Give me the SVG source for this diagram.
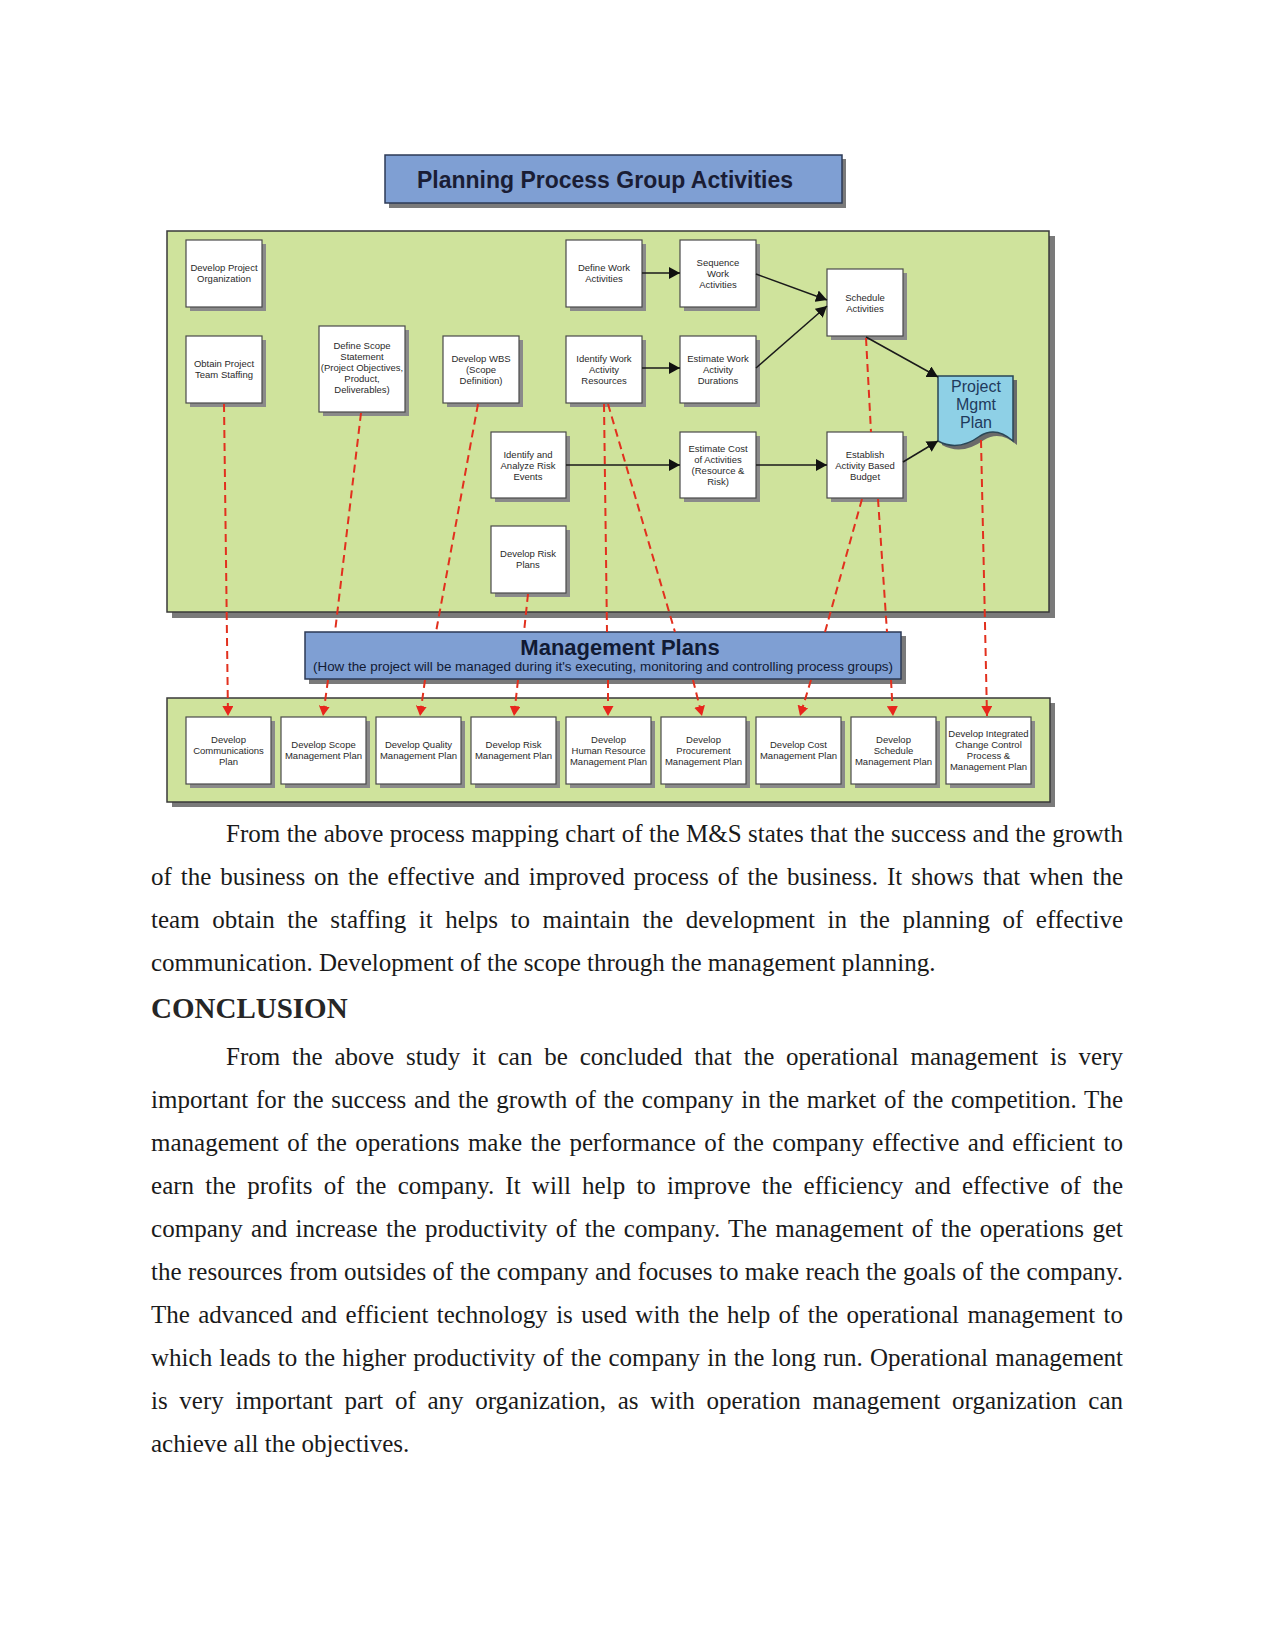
<svg xmlns="http://www.w3.org/2000/svg" width="1275" height="1651" viewBox="0 0 1275 1651">
<defs>
<style>
.panel{fill:#cfe39c;stroke:#3a3a3a;stroke-width:1.5}
.pshadow{fill:#7a7a7a}
.box{fill:#ffffff;stroke:#4a4a4a;stroke-width:1.2}
.bshadow{fill:#8a8a8a}
.blue{fill:#7f9fd3;stroke:#2d3a55;stroke-width:1.5}
.bt{font-family:"Liberation Sans",Arial,sans-serif;font-size:9.5px;fill:#2a2a2a;text-anchor:middle}
.body{font-family:"Liberation Serif","Times New Roman",serif;font-size:25px;fill:#1a1a1a}
.flow{stroke:#1a1a1a;stroke-width:1.5;fill:none}
.dash{stroke:#e2301e;stroke-width:2;stroke-dasharray:8 5;fill:none}
.dashA{stroke:#e2301e;stroke-width:2;stroke-dasharray:8 5;fill:none;marker-end:url(#ra)}
</style>
<marker id="ba" markerUnits="userSpaceOnUse" markerWidth="12" markerHeight="12" refX="11" refY="6" orient="auto">
<path d="M0,0 L11,6 L0,12 z" fill="#111"/>
</marker>
<marker id="ra" markerUnits="userSpaceOnUse" markerWidth="11" markerHeight="11" refX="10" refY="5.5" orient="auto">
<path d="M0,0 L10,5.5 L0,11 z" fill="#e8251c"/>
</marker>
</defs>
<rect width="1275" height="1651" fill="#ffffff"/>

<g id="title">
<rect class="pshadow" x="389" y="159" width="457" height="49"/>
<rect class="blue" x="385" y="155" width="457" height="48"/>
<text x="605" y="188" font-family="'Liberation Sans',Arial,sans-serif" font-size="23" font-weight="bold" fill="#1a1d35" text-anchor="middle">Planning Process Group Activities</text>
</g>

<g id="planning-panel">
<rect class="pshadow" x="172" y="236" width="883" height="382"/>
<rect class="panel" x="167" y="231" width="882" height="381"/>
</g>

<g id="output-panel">
<rect class="pshadow" x="172" y="703" width="883" height="104"/>
<rect class="panel" x="167" y="698" width="883" height="104"/>
</g>

<g id="n-develop-project-organization">
<rect class="bshadow" x="190" y="244" width="76" height="67"/><rect class="box" x="186" y="240" width="76" height="67"/>
<text class="bt" x="224" y="271">Develop Project</text><text class="bt" x="224" y="282">Organization</text>
</g>
<g id="n-obtain-project-team-staffing">
<rect class="bshadow" x="190" y="340" width="76" height="67"/><rect class="box" x="186" y="336" width="76" height="67"/>
<text class="bt" x="224" y="367">Obtain Project</text><text class="bt" x="224" y="378">Team Staffing</text>
</g>
<g id="n-define-scope-statement">
<rect class="bshadow" x="323" y="330" width="86" height="86"/><rect class="box" x="319" y="326" width="86" height="86"/>
<text class="bt" x="362" y="349">Define Scope</text><text class="bt" x="362" y="360">Statement</text><text class="bt" x="362" y="371">(Project Objectives,</text><text class="bt" x="362" y="382">Product,</text><text class="bt" x="362" y="393">Deliverables)</text>
</g>
<g id="n-develop-wbs">
<rect class="bshadow" x="447" y="340" width="76" height="67"/><rect class="box" x="443" y="336" width="76" height="67"/>
<text class="bt" x="481" y="362">Develop WBS</text><text class="bt" x="481" y="373">(Scope</text><text class="bt" x="481" y="384">Definition)</text>
</g>
<g id="n-define-work-activities">
<rect class="bshadow" x="570" y="244" width="76" height="67"/><rect class="box" x="566" y="240" width="76" height="67"/>
<text class="bt" x="604" y="271">Define Work</text><text class="bt" x="604" y="282">Activities</text>
</g>
<g id="n-sequence-work-activities">
<rect class="bshadow" x="684" y="244" width="76" height="67"/><rect class="box" x="680" y="240" width="76" height="67"/>
<text class="bt" x="718" y="266">Sequence</text><text class="bt" x="718" y="277">Work</text><text class="bt" x="718" y="288">Activities</text>
</g>
<g id="n-identify-work-activity-resources">
<rect class="bshadow" x="570" y="340" width="76" height="67"/><rect class="box" x="566" y="336" width="76" height="67"/>
<text class="bt" x="604" y="362">Identify Work</text><text class="bt" x="604" y="373">Activity</text><text class="bt" x="604" y="384">Resources</text>
</g>
<g id="n-estimate-work-activity-durations">
<rect class="bshadow" x="684" y="340" width="76" height="67"/><rect class="box" x="680" y="336" width="76" height="67"/>
<text class="bt" x="718" y="362">Estimate Work</text><text class="bt" x="718" y="373">Activity</text><text class="bt" x="718" y="384">Durations</text>
</g>
<g id="n-schedule-activities">
<rect class="bshadow" x="831" y="273" width="76" height="67"/><rect class="box" x="827" y="269" width="76" height="67"/>
<text class="bt" x="865" y="301">Schedule</text><text class="bt" x="865" y="312">Activities</text>
</g>
<g id="n-identify-analyze-risk">
<rect class="bshadow" x="495" y="436" width="75" height="66"/><rect class="box" x="491" y="432" width="75" height="66"/>
<text class="bt" x="528" y="458">Identify and</text><text class="bt" x="528" y="469">Analyze Risk</text><text class="bt" x="528" y="480">Events</text>
</g>
<g id="n-estimate-cost">
<rect class="bshadow" x="684" y="436" width="76" height="66"/><rect class="box" x="680" y="432" width="76" height="66"/>
<text class="bt" x="718" y="452">Estimate Cost</text><text class="bt" x="718" y="463">of Activities</text><text class="bt" x="718" y="474">(Resource &amp;</text><text class="bt" x="718" y="485">Risk)</text>
</g>
<g id="n-establish-budget">
<rect class="bshadow" x="831" y="436" width="76" height="66"/><rect class="box" x="827" y="432" width="76" height="66"/>
<text class="bt" x="865" y="458">Establish</text><text class="bt" x="865" y="469">Activity Based</text><text class="bt" x="865" y="480">Budget</text>
</g>
<g id="n-develop-risk-plans">
<rect class="bshadow" x="495" y="530" width="75" height="67"/><rect class="box" x="491" y="526" width="75" height="67"/>
<text class="bt" x="528" y="557">Develop Risk</text><text class="bt" x="528" y="568">Plans</text>
</g>
<g id="n-project-mgmt-plan">
<path d="M942,380 H1017 V445 Q1000,430 984,440 Q962,456 942,445 Z" fill="#6a6a6a"/>
<path d="M938,376 H1013 V441 Q996,426 980,436 Q958,452 938,441 Z" fill="#8ed0e6" stroke="#2a4656" stroke-width="1.5"/>
<text x="976" y="392" font-family="'Liberation Sans',Arial,sans-serif" font-size="16" fill="#1f3a5c" text-anchor="middle">Project</text>
<text x="976" y="410" font-family="'Liberation Sans',Arial,sans-serif" font-size="16" fill="#1f3a5c" text-anchor="middle">Mgmt</text>
<text x="976" y="428" font-family="'Liberation Sans',Arial,sans-serif" font-size="16" fill="#1f3a5c" text-anchor="middle">Plan</text>
</g>

<g id="n-management-plans">
<rect class="pshadow" x="309" y="636" width="597" height="48"/>
<rect class="blue" x="305" y="632" width="596" height="47"/>
<text x="620" y="655" font-family="'Liberation Sans',Arial,sans-serif" font-size="22" font-weight="bold" fill="#111a33" text-anchor="middle">Management Plans</text>
<text x="313" y="671" font-family="'Liberation Sans',Arial,sans-serif" font-size="13" fill="#111a33" textLength="580" lengthAdjust="spacingAndGlyphs">(How the project will be managed during it's executing, monitoring and controlling process groups)</text>
</g>

<g id="n-communications-plan">
<rect class="bshadow" x="190" y="721" width="85" height="67"/><rect class="box" x="186" y="717" width="85" height="67"/>
<text class="bt" x="228.5" y="743">Develop</text><text class="bt" x="228.5" y="754">Communications</text><text class="bt" x="228.5" y="765">Plan</text>
</g>
<g id="n-scope-management-plan">
<rect class="bshadow" x="285" y="721" width="85" height="67"/><rect class="box" x="281" y="717" width="85" height="67"/>
<text class="bt" x="323.5" y="748">Develop Scope</text><text class="bt" x="323.5" y="759">Management Plan</text>
</g>
<g id="n-quality-management-plan">
<rect class="bshadow" x="380" y="721" width="85" height="67"/><rect class="box" x="376" y="717" width="85" height="67"/>
<text class="bt" x="418.5" y="748">Develop Quality</text><text class="bt" x="418.5" y="759">Management Plan</text>
</g>
<g id="n-risk-management-plan">
<rect class="bshadow" x="475" y="721" width="85" height="67"/><rect class="box" x="471" y="717" width="85" height="67"/>
<text class="bt" x="513.5" y="748">Develop Risk</text><text class="bt" x="513.5" y="759">Management Plan</text>
</g>
<g id="n-hr-management-plan">
<rect class="bshadow" x="570" y="721" width="85" height="67"/><rect class="box" x="566" y="717" width="85" height="67"/>
<text class="bt" x="608.5" y="743">Develop</text><text class="bt" x="608.5" y="754">Human Resource</text><text class="bt" x="608.5" y="765">Management Plan</text>
</g>
<g id="n-procurement-management-plan">
<rect class="bshadow" x="665" y="721" width="85" height="67"/><rect class="box" x="661" y="717" width="85" height="67"/>
<text class="bt" x="703.5" y="743">Develop</text><text class="bt" x="703.5" y="754">Procurement</text><text class="bt" x="703.5" y="765">Management Plan</text>
</g>
<g id="n-cost-management-plan">
<rect class="bshadow" x="760" y="721" width="85" height="67"/><rect class="box" x="756" y="717" width="85" height="67"/>
<text class="bt" x="798.5" y="748">Develop Cost</text><text class="bt" x="798.5" y="759">Management Plan</text>
</g>
<g id="n-schedule-management-plan">
<rect class="bshadow" x="855" y="721" width="85" height="67"/><rect class="box" x="851" y="717" width="85" height="67"/>
<text class="bt" x="893.5" y="743">Develop</text><text class="bt" x="893.5" y="754">Schedule</text><text class="bt" x="893.5" y="765">Management Plan</text>
</g>
<g id="n-integrated-change-control">
<rect class="bshadow" x="950" y="721" width="85" height="67"/><rect class="box" x="946" y="717" width="85" height="67"/>
<text class="bt" x="988.5" y="737">Develop Integrated</text><text class="bt" x="988.5" y="748">Change Control</text><text class="bt" x="988.5" y="759">Process &amp;</text><text class="bt" x="988.5" y="770">Management Plan</text>
</g>

<g id="connectors">
<line class="flow" x1="642" y1="273" x2="680" y2="273" marker-end="url(#ba)"/>
<line class="flow" x1="642" y1="368" x2="680" y2="368" marker-end="url(#ba)"/>
<line class="flow" x1="756" y1="274" x2="827" y2="300" marker-end="url(#ba)"/>
<line class="flow" x1="756" y1="368" x2="827" y2="306" marker-end="url(#ba)"/>
<line class="flow" x1="566" y1="465" x2="680" y2="465" marker-end="url(#ba)"/>
<line class="flow" x1="756" y1="465" x2="827" y2="465" marker-end="url(#ba)"/>
<line class="flow" x1="866" y1="337" x2="938" y2="377" marker-end="url(#ba)"/>
<line class="flow" x1="903" y1="462" x2="938" y2="441" marker-end="url(#ba)"/>

<line class="dash" x1="866" y1="338" x2="871" y2="432"/>

<line class="dashA" x1="224" y1="404" x2="228" y2="716"/>
<line class="dash" x1="361" y1="413" x2="335" y2="632"/>
<line class="dashA" x1="328" y1="680" x2="323" y2="716"/>
<line class="dash" x1="478" y1="404" x2="436" y2="632"/>
<line class="dashA" x1="425" y1="680" x2="420" y2="716"/>
<line class="dash" x1="528" y1="594" x2="524" y2="632"/>
<line class="dashA" x1="518" y1="680" x2="514" y2="716"/>
<line class="dash" x1="604" y1="404" x2="607" y2="632"/>
<line class="dashA" x1="608" y1="680" x2="608" y2="716"/>
<line class="dash" x1="608" y1="404" x2="675" y2="632"/>
<line class="dashA" x1="693" y1="680" x2="702" y2="716"/>
<line class="dash" x1="862" y1="499" x2="825" y2="632"/>
<line class="dashA" x1="811" y1="680" x2="800" y2="716"/>
<line class="dash" x1="878" y1="499" x2="887" y2="632"/>
<line class="dashA" x1="891" y1="680" x2="893" y2="716"/>
<line class="dashA" x1="981" y1="440" x2="987" y2="716"/>
</g>

<g id="body-text">
<text class="body" x="226" y="842" word-spacing="0.2" textLength="897" lengthAdjust="spacing">From the above process mapping chart of the M&amp;S states that the success and the growth</text>
<text class="body" x="151" y="885" word-spacing="2.7" textLength="972" lengthAdjust="spacing">of the business on the effective and improved process of the business. It shows that when the</text>
<text class="body" x="151" y="928" word-spacing="6.2" textLength="972" lengthAdjust="spacing">team obtain the staffing it helps to maintain the development in the planning of effective</text>
<text class="body" x="151" y="971">communication. Development of the scope through the management planning.</text>
<text x="151" y="1018" font-family="'Liberation Serif','Times New Roman',serif" font-size="29" font-weight="bold" fill="#262626">CONCLUSION</text>
<text class="body" x="226" y="1065" word-spacing="5.6" textLength="897" lengthAdjust="spacing">From the above study it can be concluded that the operational management is very</text>
<text class="body" x="151" y="1108" word-spacing="1.5" textLength="972" lengthAdjust="spacing">important for the success and the growth of the company in the market of the competition. The</text>
<text class="body" x="151" y="1151" word-spacing="2.1" textLength="972" lengthAdjust="spacing">management of the operations make the performance of the company effective and efficient to</text>
<text class="body" x="151" y="1194" word-spacing="4.9" textLength="972" lengthAdjust="spacing">earn the profits of the company. It will help to improve the efficiency and effective of the</text>
<text class="body" x="151" y="1237" word-spacing="2.0" textLength="972" lengthAdjust="spacing">company and increase the productivity of the company. The management of the operations get</text>
<text class="body" x="151" y="1280" word-spacing="0.1" textLength="972" lengthAdjust="spacing">the resources from outsides of the company and focuses to make reach the goals of the company.</text>
<text class="body" x="151" y="1323" word-spacing="2.1" textLength="972" lengthAdjust="spacing">The advanced and efficient technology is used with the help of the operational management to</text>
<text class="body" x="151" y="1366" word-spacing="0.9" textLength="972" lengthAdjust="spacing">which leads to the higher productivity of the company in the long run. Operational management</text>
<text class="body" x="151" y="1409" word-spacing="5.4" textLength="972" lengthAdjust="spacing">is very important part of any organization, as with operation management organization can</text>
<text class="body" x="151" y="1452">achieve all the objectives.</text>
</g>
</svg>
